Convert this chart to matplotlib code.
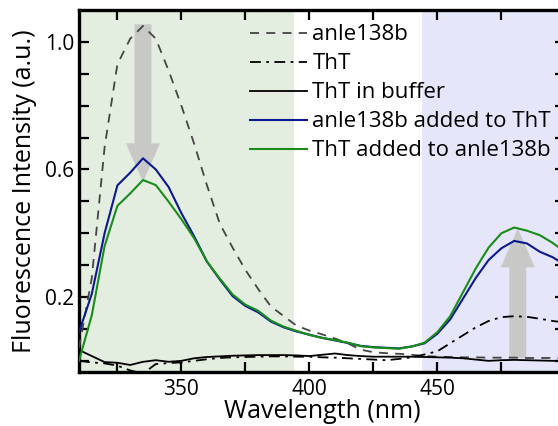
import numpy as np
import matplotlib
matplotlib.use("Agg")
import matplotlib.pyplot as plt
from matplotlib.patches import FancyArrow

plt.rcParams['font.family'] = ['Open Sans', 'DejaVu Sans']

# wavelength grid (nm)
wl = np.arange(310, 501, 5)

# anle138b alone
anle = [0.04, 0.26, 0.67, 0.93, 1.01, 1.05, 1.01, 0.91, 0.80, 0.68, 0.55, 0.43, 0.355,
        0.285, 0.225, 0.17, 0.14, 0.11, 0.095, 0.083, 0.07, 0.055, 0.035, 0.027, 0.024,
        0.022, 0.019, 0.015, 0.013, 0.012, 0.011, 0.011, 0.010, 0.010, 0.010, 0.009,
        0.009, 0.009, 0.008]
# ThT
tht = [0.0, -0.005, -0.008, -0.015, -0.03, -0.04, -0.01, -0.007, -0.005, 0.0, 0.005,
       0.009, 0.011, 0.012, 0.013, 0.014, 0.014, 0.013, 0.013, 0.011, 0.010, 0.008,
       0.006, 0.004, 0.002, 0.006, 0.011, 0.02, 0.03, 0.055, 0.08, 0.105, 0.125, 0.137,
       0.14, 0.138, 0.132, 0.125, 0.12]
# ThT in buffer
tht_buf = [0.034, 0.015, -0.004, -0.006, -0.013, -0.003, 0.002, -0.003, 0.0, 0.008,
           0.012, 0.014, 0.016, 0.017, 0.018, 0.018, 0.018, 0.017, 0.015, 0.019, 0.023,
           0.018, 0.015, 0.013, 0.013, 0.013, 0.013, 0.012, 0.011, 0.010, 0.008, 0.004,
           0.0, 0.002, 0.003, 0.002, 0.001, 0.0, 0.0]
# anle138b added to ThT
anle_to_tht = [0.09, 0.21, 0.40, 0.55, 0.59, 0.635, 0.60, 0.545, 0.463, 0.39, 0.311,
               0.255, 0.203, 0.172, 0.152, 0.123, 0.105, 0.092, 0.082, 0.072, 0.064,
               0.056, 0.047, 0.043, 0.041, 0.039, 0.045, 0.055, 0.085, 0.13, 0.195,
               0.26, 0.316, 0.353, 0.376, 0.368, 0.342, 0.325, 0.30]
# ThT added to anle138b
tht_to_anle = [0.0, 0.143, 0.36, 0.486, 0.525, 0.567, 0.551, 0.499, 0.444, 0.384,
               0.311, 0.258, 0.208, 0.176, 0.157, 0.126, 0.107, 0.094, 0.081, 0.072,
               0.065, 0.057, 0.046, 0.042, 0.040, 0.038, 0.045, 0.057, 0.09, 0.14,
               0.215, 0.29, 0.355, 0.40, 0.418, 0.408, 0.394, 0.37, 0.34]

# shaded bands and arrows
green_band = (310, 394)
blue_band = (444, 500)
arrow_down = (335, 1.055, 0.56)
arrow_up = (481.4, 0.009, 0.415)

fig = plt.figure(figsize=(5.58, 4.26), dpi=100)
ax = fig.add_axes([79 / 558, 54 / 426, 486.4 / 558, 362 / 426])

ax.axvspan(*green_band, color="#e4eee0", lw=0, zorder=0)
ax.axvspan(*blue_band, color="#e6e6fa", lw=0, zorder=0)

for x0, y0, y1 in (arrow_down, arrow_up):
    ax.add_patch(FancyArrow(x0, y0, 0, y1 - y0, width=6.6, head_width=13.3,
                            head_length=0.122, length_includes_head=True,
                            color="#c8c9c6", lw=0, zorder=1))

ax.plot(wl, anle, color="#444444", ls=(0, (5, 4)), lw=1.3, label="anle138b", zorder=3)
ax.plot(wl, tht, color="black", ls=(0, (6, 3, 1.5, 3)), lw=1.3, label="ThT", zorder=3)
ax.plot(wl, tht_buf, color="black", lw=1.3, label="ThT in buffer", zorder=3)
ax.plot(wl, anle_to_tht, color="#0c1890", lw=1.5, label="anle138b added to ThT", zorder=4)
ax.plot(wl, tht_to_anle, color="#1a8c1a", lw=1.5, label="ThT added to anle138b", zorder=4)

ax.set_xlim(310, 500)
ax.set_ylim(-0.035, 1.1)
ax.set_xticks([350, 400, 450])
ax.set_xticks([325, 375, 425, 475], minor=True)
ax.set_yticks([0.2, 0.6, 1.0])
ax.set_yticks([0.0, 0.1, 0.3, 0.4, 0.5, 0.7, 0.8, 0.9], minor=True)
ax.set_yticklabels(["0.2", "0.6", "1.0"])
ax.tick_params(which="both", direction="in", top=True, right=True, length=7, width=1.6,
               labelsize=15)
ax.tick_params(axis="x", pad=5)
for s in ax.spines.values():
    s.set_linewidth(2.4)

ax.set_xlabel("Wavelength (nm)", fontsize=18, labelpad=-1)
ax.set_ylabel("Fluorescence Intensity (a.u.)", fontsize=18, labelpad=6)

ax.legend(loc="upper left", bbox_to_anchor=(0.352, 0.96), frameon=False, fontsize=16,
          handlelength=2.55, handletextpad=0.25, labelspacing=0.36, borderpad=0,
          borderaxespad=0)

fig.savefig("out.png", dpi=100)
